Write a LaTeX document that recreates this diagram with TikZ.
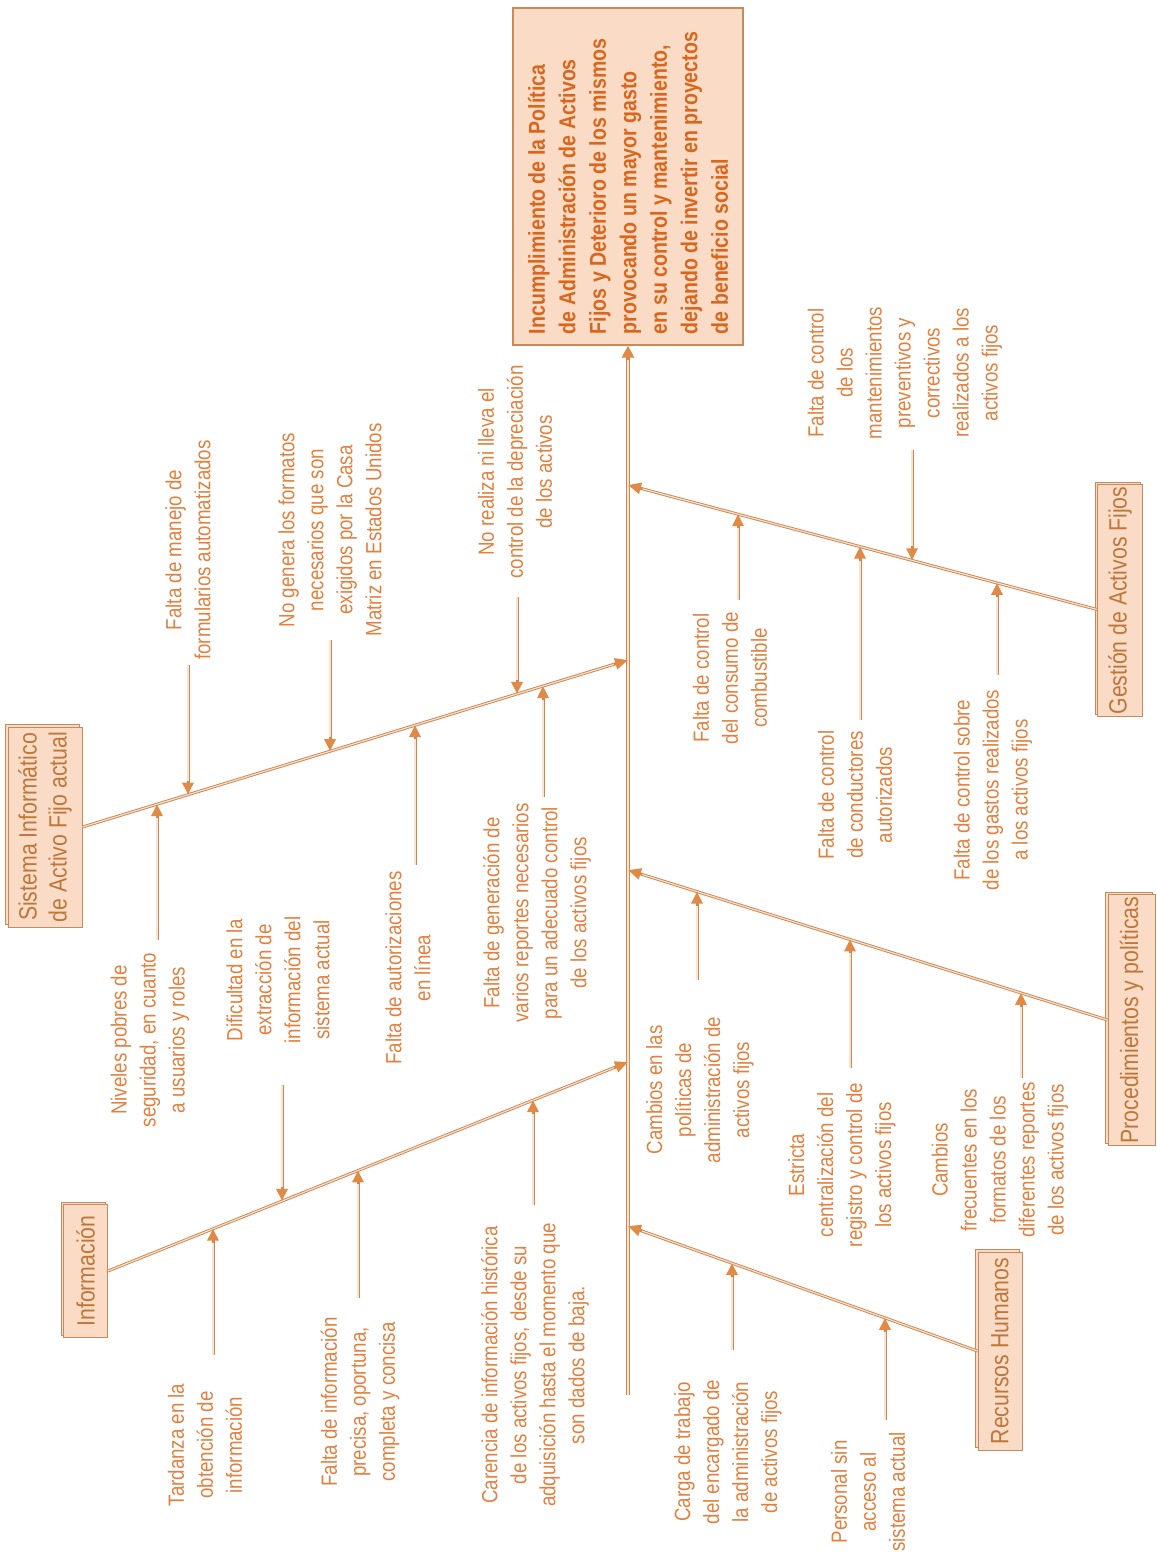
\documentclass[tikz,border=0pt]{standalone}
\usepackage{fontspec}
\usetikzlibrary{arrows.meta,calc,shadows}
\newfontfamily\labfont{Liberation Sans}[FakeStretch=0.85]
\definecolor{labtext}{HTML}{E3803E}
\definecolor{headtext}{HTML}{D9661C}
\definecolor{cattext}{HTML}{BF763A}
\definecolor{boxfill}{HTML}{FADCC6}
\definecolor{boxline}{HTML}{C88A5C}
\definecolor{wire}{HTML}{CF8752}
\definecolor{wirein}{HTML}{FBE4D2}
\definecolor{tipfill}{HTML}{E08A45}
\begin{document}
\begin{tikzpicture}[x=1pt,y=-1pt,
  causetext/.style={rotate=90, align=center, text=labtext,
    font=\labfont\fontsize{22}{29}\selectfont, inner sep=1pt},
  catbox/.style={rotate=90, align=center, draw=boxline, line width=1pt,
    fill=boxfill, text=cattext, font=\labfont\fontsize{25}{30}\selectfont,
    inner sep=2pt,
    general shadow={draw=boxline, fill=boxfill, line width=0.8pt,
      shadow xshift=-2.5pt, shadow yshift=2.5pt}},
  headbox/.style={rotate=90, align=flush left, draw=boxline, line width=1.2pt,
    fill=boxfill, text=headtext,
    font=\labfont\bfseries\fontsize{23}{30.5}\selectfont,
    text width=315pt, minimum width=337pt, minimum height=230pt},
  cause/.style={draw=wire, line width=3pt,
    -{Triangle[length=12pt,width=11pt,color=tipfill]},
    postaction={draw=wirein, line width=1.1pt, shorten >=14pt, -}},
  bone/.style={draw=wire, line width=3pt,
    -{Triangle[length=13pt,width=11pt,color=tipfill]},
    postaction={draw=wirein, line width=1.1pt, shorten >=15pt, -}},
  spine/.style={draw=wire, line width=4pt,
    -{Triangle[length=12pt,width=12pt,color=tipfill]},
    postaction={draw=wirein, line width=1.8pt, shorten >=14pt, -}}
]
\fill[white] (0,0) rectangle (1156,1560);
\useasboundingbox (0,0) rectangle (1156,1560);

% effect (head)
\node[headbox] (head) at (628,176.5) {Incumplimiento de la Política\\
de Administración de Activos\\
Fijos y Deterioro de los mismos\\
provocando un mayor gasto\\
en su control y mantenimiento,\\
dejando de invertir en proyectos\\
de beneficio social};

% main spine
\coordinate (tail) at (628,1395);
\coordinate (j3) at (628,485);
\coordinate (j1) at (628,660);
\coordinate (j4) at (628,870);
\coordinate (j2) at (628,1062);
\coordinate (j5) at (628,1226);
\draw[spine] (tail) -- (head.west);

% category boxes
\node[catbox, minimum width=200pt, minimum height=74pt] (sis) at (45,827)
  {Sistema Informático\\de Activo Fijo actual};
\node[catbox, minimum width=133pt, minimum height=44pt] (info) at (85.5,1271)
  {Información};
\node[catbox, minimum width=215pt, minimum height=45pt] (gest) at (1120,600.5)
  {Gestión de Activos Fijos};
\node[catbox, minimum width=245pt, minimum height=47pt] (proc) at (1131.5,1020)
  {Procedimientos y políticas};
\node[catbox, minimum width=198pt, minimum height=44pt] (rh) at (1000,1351)
  {Recursos Humanos};

% bones
\draw[bone] (sis.south) -- (j1);
\draw[bone] (info.south) -- (j2);
\draw[bone] ($(gest.north)+(0,9)$) -- (j3);
\draw[bone] (proc.north) -- (j4);
\draw[bone] (rh.north) -- (j5);

% --- Sistema Informatico causes
\node[causetext] (ts1) at (188,550) {Falta de manejo de\\formularios automatizados};
\node[causetext] (ts2) at (330,530) {No genera los formatos\\necesarios que son\\exigidos por la Casa\\Matriz en Estados Unidos};
\node[causetext] (ts3) at (515,472) {No realiza ni lleva el\\control de la depreciación\\de los activos};
\node[causetext] (ts4) at (150,1040) {Niveles pobres de\\seguridad, en cuanto\\a usuarios y roles};
\node[causetext] (ts5) at (408,968) {Falta de autorizaciones\\en línea};
\node[causetext] (ts6) at (537,913) {Falta de generación de\\varios reportes necesarios\\para un adecuado control\\de los activos fijos};
\coordinate (s1a) at (188,665);  \coordinate (s1b) at (188,794.6);
\coordinate (s2a) at (330,640);  \coordinate (s2b) at (330,751.1);
\coordinate (s3a) at (517,597);  \coordinate (s3b) at (517,693.9);
\coordinate (s4a) at (157,940);  \coordinate (s4b) at (157,804.1);
\coordinate (s5a) at (415,865);  \coordinate (s5b) at (415,725.1);
\coordinate (s6a) at (543,797);  \coordinate (s6b) at (543,686.0);
\foreach \k in {1,...,6}{\draw[cause] (s\k a) -- (s\k b);}

% --- Informacion causes
\node[causetext] (ti1) at (278,980) {Dificultad en la\\extracción de\\información del\\sistema actual};
\node[causetext] (ti2) at (205,1445) {Tardanza en la\\obtención de\\información};
\node[causetext] (ti3) at (360,1402) {Falta de información\\precisa, oportuna,\\completa y concisa};
\node[causetext] (ti4) at (535,1365) {Carencia de información histórica\\de los activos fijos, desde su\\adquisición hasta el momento que\\son dados de baja.};
\coordinate (i1a) at (282,1085); \coordinate (i1b) at (282,1200.9);
\coordinate (i2a) at (213,1355); \coordinate (i2b) at (213,1228.6);
\coordinate (i3a) at (358,1298); \coordinate (i3b) at (358,1170.4);
\coordinate (i4a) at (533,1205); \coordinate (i4b) at (533,1100.1);
\foreach \k in {1,...,4}{\draw[cause] (i\k a) -- (i\k b);}

% --- Gestion de Activos Fijos causes
\node[causetext] (tg1) at (730,678) {Falta de control\\del consumo de\\combustible};
\node[causetext] (tg2) at (855,795) {Falta de control\\de conductores\\autorizados};
\node[causetext] (tg3) at (905,373) {Falta de control\\de los\\mantenimientos\\preventivos y\\correctivos\\realizados a los\\activos fijos};
\node[causetext] (tg4) at (993,790) {Falta de control sobre\\de los gastos realizados\\a los activos fijos};
\coordinate (g1a) at (738,600);  \coordinate (g1b) at (738,514.2);
\coordinate (g2a) at (860,720);  \coordinate (g2b) at (860,546.5);
\coordinate (g3a) at (912,450);  \coordinate (g3b) at (912,560.3);
\coordinate (g4a) at (997,675);  \coordinate (g4b) at (997,582.9);
\foreach \k in {1,...,4}{\draw[cause] (g\k a) -- (g\k b);}

% --- Procedimientos y politicas causes
\node[causetext] (tp1) at (700,1090) {Cambios en las\\políticas de\\administración de\\activos fijos};
\node[causetext] (tp2) at (842,1165) {Estricta\\centralización del\\registro y control de\\los activos fijos};
\node[causetext] (tp3) at (1000,1160) {Cambios\\frecuentes en los\\formatos de los\\diferentes reportes\\de los activos fijos};
\coordinate (p1a) at (697,980);  \coordinate (p1b) at (697,891.6);
\coordinate (p2a) at (850,1068); \coordinate (p2b) at (850,939.4);
\coordinate (p3a) at (1021,1078); \coordinate (p3b) at (1021,992.8);
\foreach \k in {1,...,3}{\draw[cause] (p\k a) -- (p\k b);}

% --- Recursos Humanos causes
\node[causetext] (tr1) at (728,1452) {Carga de trabajo\\del encargado de\\la administración\\de activos fijos};
\node[causetext] (tr2) at (868,1492) {Personal sin\\acceso al\\sistema actual};
\coordinate (r1a) at (732,1350); \coordinate (r1b) at (732,1263.1);
\coordinate (r2a) at (885,1420); \coordinate (r2b) at (885,1317.8);
\foreach \k in {1,2}{\draw[cause] (r\k a) -- (r\k b);}
\end{tikzpicture}
\end{document}
